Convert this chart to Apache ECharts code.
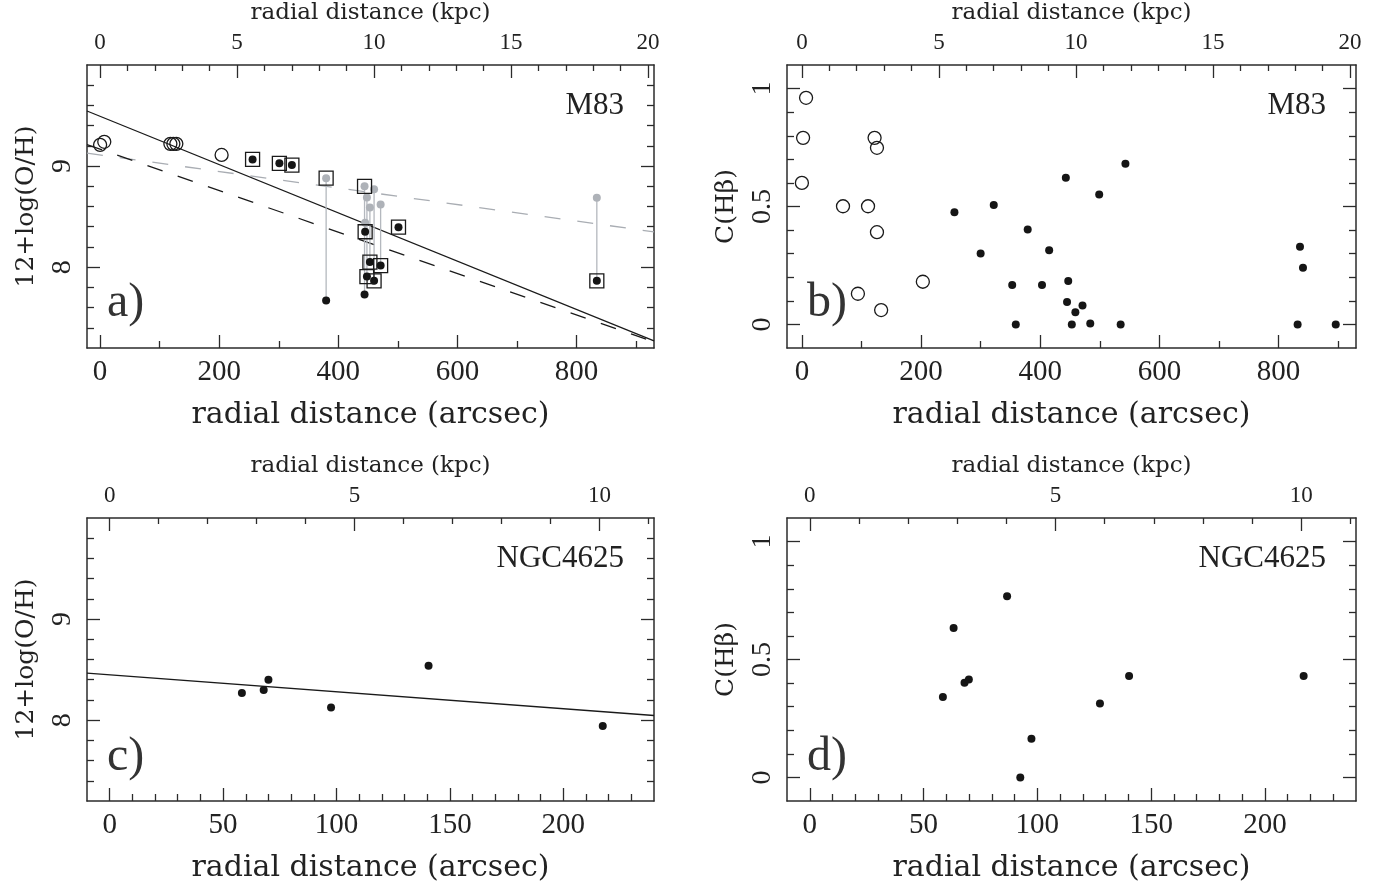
<!DOCTYPE html>
<html>
<head>
<meta charset="utf-8">
<title>M83 / NGC4625 radial gradients</title>
<script src="https://cdn.jsdelivr.net/npm/echarts@6/dist/echarts.min.js"></script>
<style>
html, body { margin: 0; padding: 0; background: #fff; }
#chart { width: 1385px; height: 884px; }
</style>
</head>
<body>
<div id="chart"></div>
<script type="text/javascript">
// ---------- values ----------
// a) M83, 12+log(O/H) against radius (arcsec)
var m83OpenX = [0, 7, 118, 123, 128, 204];
var m83OpenY = [9.21, 9.24, 9.22, 9.22, 9.22, 9.11];
var m83DotX = [256, 301, 322, 501];
var m83DotY = [9.066, 9.027, 9.01, 8.395];
// same region, grey value (top) joined to black value (bottom)
var m83PairX = [379.5, 444, 445, 448, 453, 460, 471, 834];
var m83PairGrey = [8.88, 8.80, 8.44, 8.69, 8.59, 8.77, 8.62, 8.687];
var m83PairBlack = [7.67, 7.73, 8.35, 7.907, 8.05, 7.865, 8.016, 7.865];
var m83BoxX = [256, 301, 322, 379.5, 444, 445, 448, 453, 460, 471, 501, 834];
var m83BoxY = [9.066, 9.027, 9.01, 8.88, 8.80, 8.35, 7.907, 8.05, 7.865, 8.016, 8.395, 7.865];
// fitted gradients, end points
var m83FitSolid = [[-22, 9.545], [930, 7.270]];
var m83FitDash = [[-22, 9.212], [930, 7.260]];
var m83FitGrey = [[-22, 9.128], [930, 8.349]];

// b) M83, C(Hbeta)
var m83cOpenX = [7, 2, 0, 122, 126, 69, 111, 126, 203, 94, 133];
var m83cOpenY = [0.961, 0.791, 0.60, 0.791, 0.749, 0.501, 0.501, 0.391, 0.181, 0.130, 0.061];
var m83cDotX = [256, 322, 379, 300, 415, 443, 353, 403, 447, 445, 459, 359, 453, 499, 543, 471, 484, 535, 836, 841, 832, 896];
var m83cDotY = [0.476, 0.506, 0.403, 0.301, 0.315, 0.622, 0.167, 0.167, 0.184, 0.095, 0.052, 0.0, 0.0, 0.551, 0.681, 0.080, 0.004, 0.0, 0.329, 0.240, 0.0, 0.0];

// c) NGC4625, 12+log(O/H)
var n4625X = [58.3, 67.9, 70, 97.6, 140.6, 217.4];
var n4625Y = [8.269, 8.299, 8.40, 8.125, 8.538, 7.941];
var n4625Fit = [[-10, 8.466], [240, 8.046]];

// d) NGC4625, C(Hbeta)
var n4625cX = [86.7, 63.2, 68, 69.9, 58.5, 97.4, 92.5, 127.5, 140.3, 217];
var n4625cY = [0.768, 0.634, 0.401, 0.415, 0.341, 0.164, 0.0, 0.313, 0.430, 0.430];

// tick labels
var arcM83Ticks = [0, 200, 400, 600, 800];
var arcN4625Ticks = [0, 50, 100, 150, 200];
var kpcM83Ticks = [0, 5, 10, 15, 20];
var kpcN4625Ticks = [0, 5, 10];
var ohTicks = [8, 9];
var chbTicks = [0, 0.5, 1];

// kpc per arcsec
var M83_KPC = 0.02174;
var N4625_KPC = 0.0463;

// ---------- styling ----------
var AXIS_COLOR = '#2b2b2b';
var NUM_FONT = 'Liberation Serif';
var TXT_FONT = 'DejaVu Serif';
var MAJOR_LEN = 13, MINOR_LEN = 7;

// minor tick positions between a and b, leaving out multiples of skip
function steps(a, b, step, skip) {
	var out = [];
	for (var v = a; v <= b + 1e-9; v += step) {
		var r = Math.round(v * 1000) / 1000;
		if (skip && Math.abs(r / skip - Math.round(r / skip)) < 1e-6) continue;
		out.push(r);
	}
	return out;
}

function zip(xs, ys) {
	return xs.map(function (x, i) { return [x, ys[i]]; });
}

function tickAxis(grid, pos, range, ticks, len, line) {
	return {
		type: 'value', gridIndex: grid, position: pos,
		min: range[0], max: range[1],
		axisLine: { show: line, onZero: false, lineStyle: { color: AXIS_COLOR, width: 1.5 } },
		axisTick: { show: true, inside: true, length: len, customValues: ticks,
			lineStyle: { color: AXIS_COLOR, width: 1.3 } },
		axisLabel: { show: false },
		splitLine: { show: false }
	};
}

function labelAxis(grid, pos, range, ticks, label, name) {
	var a = tickAxis(grid, pos, range, ticks, MAJOR_LEN, true);
	a.axisLabel = Object.assign({ show: true, customValues: ticks, color: '#222',
		fontFamily: NUM_FONT }, label);
	if (name) {
		a.name = name.text;
		a.nameLocation = 'middle';
		a.nameGap = name.gap;
		a.nameTextStyle = { fontFamily: TXT_FONT, fontSize: name.size, color: '#222' };
	}
	return a;
}

var panels = [
	{ grid: { left: 87, top: 65, width: 567, height: 283 },
		x: [-22, 930], xMajor: arcM83Ticks, xMinor: steps(100, 900, 100, 200),
		kpc: M83_KPC, kMajor: kpcM83Ticks, kMinor: steps(1, 20, 1, 5),
		y: [7.2, 10], yMajor: ohTicks, yMinor: steps(7.4, 9.8, 0.2, 1),
		yName: '12+log(O/H)', tag: 'a)', galaxy: 'M83' },
	{ grid: { left: 787, top: 65, width: 569, height: 283 },
		x: [-25, 930], xMajor: arcM83Ticks, xMinor: steps(100, 900, 100, 200),
		kpc: M83_KPC, kMajor: kpcM83Ticks, kMinor: steps(1, 20, 1, 5),
		y: [-0.1, 1.1], yMajor: chbTicks, yMinor: steps(0.1, 0.9, 0.1, 0.5),
		yName: 'C(H\u03b2)', tag: 'b)', galaxy: 'M83' },
	{ grid: { left: 87, top: 518, width: 567, height: 284 },
		x: [-10, 240], xMajor: arcN4625Ticks, xMinor: steps(10, 230, 10, 50),
		kpc: N4625_KPC, kMajor: kpcN4625Ticks, kMinor: steps(1, 11, 1, 5),
		y: [7.2, 10], yMajor: ohTicks, yMinor: steps(7.4, 9.8, 0.2, 1),
		yName: '12+log(O/H)', tag: 'c)', galaxy: 'NGC4625' },
	{ grid: { left: 787, top: 518, width: 569, height: 284 },
		x: [-10, 240], xMajor: arcN4625Ticks, xMinor: steps(10, 230, 10, 50),
		kpc: N4625_KPC, kMajor: kpcN4625Ticks, kMinor: steps(1, 11, 1, 5),
		y: [-0.1, 1.1], yMajor: chbTicks, yMinor: steps(0.1, 0.9, 0.1, 0.5),
		yName: 'C(H\u03b2)', tag: 'd)', galaxy: 'NGC4625' }
];

var grids = [], xAxes = [], yAxes = [], graphics = [];
panels.forEach(function (p, i) {
	grids.push(p.grid);
	var kRange = [p.x[0] * p.kpc, p.x[1] * p.kpc];
	p.xi = xAxes.length;
	xAxes.push(labelAxis(i, 'bottom', p.x, p.xMajor, { fontSize: 29, margin: 10 },
		{ text: 'radial distance (arcsec)', gap: 52, size: 30 }));
	xAxes.push(tickAxis(i, 'bottom', p.x, p.xMinor, MINOR_LEN, false));
	xAxes.push(labelAxis(i, 'top', kRange, p.kMajor, { fontSize: 23, margin: 11 },
		{ text: 'radial distance (kpc)', gap: 40, size: 23 }));
	xAxes.push(tickAxis(i, 'top', kRange, p.kMinor, MINOR_LEN - 1, false));
	p.yi = yAxes.length;
	yAxes.push(labelAxis(i, 'left', p.y, p.yMajor, { fontSize: 28, margin: 10, rotate: 90 },
		{ text: p.yName, gap: 48, size: 25 }));
	yAxes.push(tickAxis(i, 'left', p.y, p.yMinor, MINOR_LEN, false));
	yAxes.push(tickAxis(i, 'right', p.y, p.yMajor, MAJOR_LEN, true));
	yAxes.push(tickAxis(i, 'right', p.y, p.yMinor, MINOR_LEN, false));

	var g = p.grid;
	graphics.push({ type: 'text', silent: true,
		style: { x: g.left + 20, y: g.top + g.height - 45, text: p.tag, fill: '#333',
			fontFamily: NUM_FONT, fontSize: 48, verticalAlign: 'middle' } });
	graphics.push({ type: 'text', silent: true,
		style: { x: g.left + g.width - 30, y: g.top + 41, text: p.galaxy, fill: '#222',
			fontFamily: NUM_FONT, fontSize: 31, align: 'right', verticalAlign: 'middle' } });
});

function onPanel(k, s) {
	s.xAxisIndex = panels[k].xi;
	s.yAxisIndex = panels[k].yi;
	return s;
}

function fitLine(k, pts, color, type) {
	return onPanel(k, { type: 'line', data: pts, showSymbol: false, silent: true,
		lineStyle: { color: color, width: 1.3, type: type }, z: 2 });
}

function dots(k, data, color, size) {
	return onPanel(k, { type: 'scatter', data: data, symbol: 'circle', symbolSize: size,
		itemStyle: { color: color, opacity: 1 }, z: 4 });
}

function hollow(k, data, symbol, size) {
	return onPanel(k, { type: 'scatter', data: data, symbol: symbol, symbolSize: size,
		itemStyle: { color: 'rgba(0,0,0,0)', borderColor: '#1a1a1a', borderWidth: 1.3, opacity: 1 }, z: 5 });
}

var series = [];
// a)
series.push(fitLine(0, m83FitGrey, '#a9adb3', [16, 17]));
series.push(fitLine(0, m83FitDash, '#1a1a1a', [16, 16]));
series.push(fitLine(0, m83FitSolid, '#1a1a1a', 'solid'));
m83PairX.forEach(function (x, i) {
	series.push(onPanel(0, { type: 'line', showSymbol: false, silent: true, z: 3,
		data: [[x, m83PairGrey[i]], [x, m83PairBlack[i]]],
		lineStyle: { color: '#b4b8be', width: 1.3 } }));
});
series.push(dots(0, zip(m83PairX, m83PairGrey), '#aeb2b8', 8));
series.push(dots(0, zip(m83DotX, m83DotY).concat(zip(m83PairX, m83PairBlack)), '#151515', 8));
series.push(hollow(0, zip(m83OpenX, m83OpenY), 'circle', 13));
series.push(hollow(0, zip(m83BoxX, m83BoxY), 'rect', 14));
// b)
series.push(hollow(1, zip(m83cOpenX, m83cOpenY), 'circle', 13));
series.push(dots(1, zip(m83cDotX, m83cDotY), '#151515', 8));
// c)
series.push(fitLine(2, n4625Fit, '#1a1a1a', 'solid'));
series.push(dots(2, zip(n4625X, n4625Y), '#151515', 8));
// d)
series.push(dots(3, zip(n4625cX, n4625cY), '#151515', 8));

var myChart = echarts.init(document.getElementById('chart'), null, { renderer: 'canvas' });
myChart.setOption({
	animation: false,
	backgroundColor: '#ffffff',
	grid: grids,
	xAxis: xAxes,
	yAxis: yAxes,
	series: series,
	graphic: graphics
});
</script>
</body>
</html>
